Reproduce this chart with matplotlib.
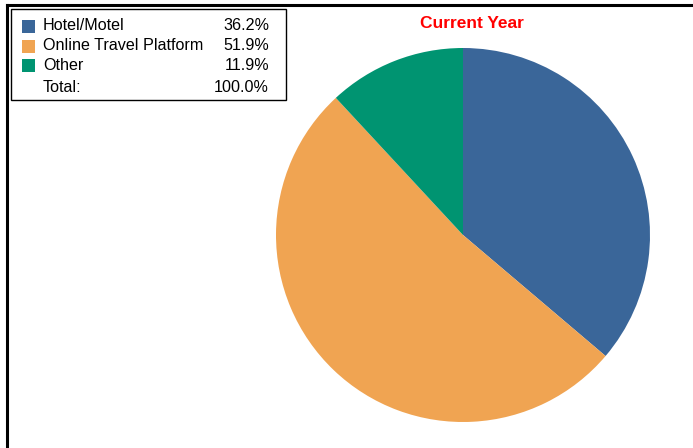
import numpy as np
import matplotlib
import matplotlib.pyplot as plt
from matplotlib.lines import Line2D
from matplotlib.patches import Rectangle

matplotlib.rc('font', family=['Liberation Sans', 'DejaVu Sans'])

categories = ['Hotel/Motel', 'Online Travel Platform', 'Other']
shares = [36.2, 51.9, 11.9]
colors = ['#3A6699', '#F0A452', '#009471']
title = 'Current Year'

W, H = 693, 448


def fx(px):
    return px / W


def fy(py):
    return 1 - py / H


fig = plt.figure(figsize=(W / 100, H / 100), dpi=100)

# pie
cx, cy, r = 463, 235, 187
ax = fig.add_axes([fx(cx - r), fy(cy + r), 2 * r / W, 2 * r / H])
ax.pie(shares, colors=colors, startangle=90, counterclock=False,
       radius=1, wedgeprops=dict(linewidth=0))
ax.set_xlim(-1, 1)
ax.set_ylim(-1, 1)
ax.set_aspect('auto')
ax.axis('off')

fig.text(fx(472), fy(23), title, color='#FF0000', fontsize=12.5,
         fontweight='bold', ha='center', va='center')

# frame lines
fig.add_artist(Line2D([fx(7), fx(693)], [fy(5), fy(5)], color='black', lw=2.2))
fig.add_artist(Line2D([fx(7), fx(7)], [fy(5), fy(448)], color='black', lw=2.2))

# legend box
fig.add_artist(Rectangle((fx(11), fy(100)), fx(286) - fx(11), fy(9) - fy(100),
                         fill=False, edgecolor='black', lw=1.0))
fs = 11.6
rows_y = [26, 46, 65]
for name, val, col, yy in zip(categories, shares, colors, rows_y):
    fig.add_artist(Rectangle((fx(22), fy(yy + 7)), 13 / W, 13 / H,
                             facecolor=col, edgecolor='none'))
    fig.text(fx(43), fy(yy), name, fontsize=fs, ha='left', va='center')
    fig.text(fx(269), fy(yy), '{:.1f}%'.format(val), fontsize=fs,
             ha='right', va='center')
fig.text(fx(43), fy(88), 'Total:', fontsize=fs, ha='left', va='center')
fig.text(fx(269), fy(88), '{:.1f}%'.format(sum(shares)), fontsize=fs,
         ha='right', va='center')

fig.savefig('out.png', dpi=100)
